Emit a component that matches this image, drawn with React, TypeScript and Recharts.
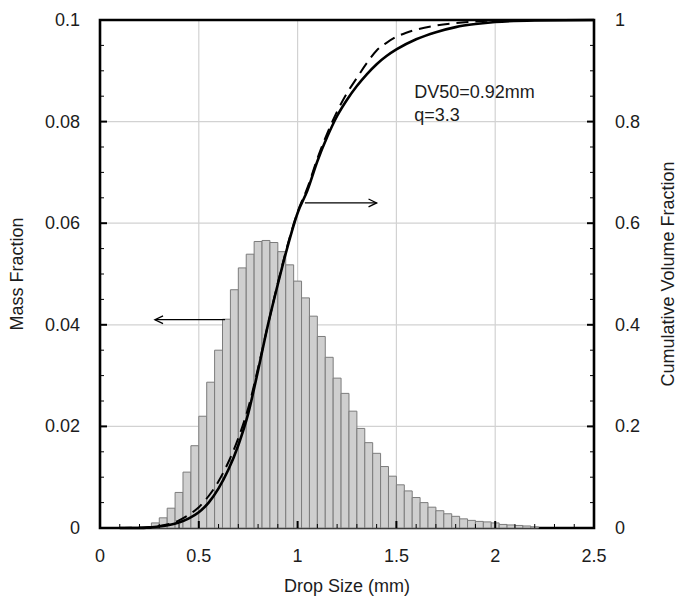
import React from 'react';
import {
  ComposedChart, Bar, Line, XAxis, YAxis, CartesianGrid,
  ReferenceArea, ReferenceLine, ReferenceDot,
} from 'recharts';

// histogram: bin centres (mm) and mass fraction per bin
const binCenters = [
  0.28, 0.32, 0.36, 0.40, 0.44, 0.48, 0.52, 0.56, 0.60, 0.64,
  0.68, 0.72, 0.76, 0.80, 0.84, 0.88, 0.92, 0.96, 1.00, 1.04,
  1.08, 1.12, 1.16, 1.20, 1.24, 1.28, 1.32, 1.36, 1.40, 1.44,
  1.48, 1.52, 1.56, 1.60, 1.64, 1.68, 1.72, 1.76, 1.80, 1.84,
  1.88, 1.92, 1.96, 2.00, 2.04, 2.08, 2.12, 2.16, 2.20,
];
const massFraction = [
  0.0010, 0.0020, 0.0039, 0.0070, 0.0110, 0.0162, 0.0220, 0.0287, 0.0350, 0.0411,
  0.0469, 0.0512, 0.0539, 0.0564, 0.0566, 0.0562, 0.0544, 0.0518, 0.0486, 0.0453,
  0.0417, 0.0377, 0.0336, 0.0295, 0.0265, 0.0230, 0.0196, 0.0168, 0.0147, 0.0121,
  0.0102, 0.0085, 0.0073, 0.0060, 0.0050, 0.0041, 0.0034, 0.0028, 0.0023, 0.0018,
  0.0015, 0.0013, 0.0012, 0.0010, 0.0007, 0.0006, 0.0005, 0.0004, 0.0002,
];

// measured cumulative volume fraction (solid)
const cdfSizes = [
  0.10, 0.20, 0.25, 0.30, 0.35, 0.40, 0.45, 0.50, 0.55, 0.60,
  0.65, 0.70, 0.75, 0.80, 0.85, 0.90, 0.95, 1.00, 1.05, 1.10,
  1.15, 1.20, 1.25, 1.30, 1.35, 1.40, 1.45, 1.50, 1.60, 1.70,
  1.80, 1.90, 2.00, 2.20, 2.50,
];
const cdfMeasured = [
  0, 0, 0.001, 0.003, 0.006, 0.011, 0.019, 0.031, 0.050, 0.078,
  0.115, 0.163, 0.225, 0.310, 0.400, 0.480, 0.555, 0.620, 0.665, 0.722,
  0.770, 0.811, 0.843, 0.870, 0.893, 0.913, 0.929, 0.942, 0.962, 0.976,
  0.986, 0.992, 0.996, 0.999, 1.000,
];

// fitted distribution (dashed)
const fitSizes = [
  0.10, 0.20, 0.25, 0.30, 0.35, 0.40, 0.45, 0.50, 0.55, 0.60,
  0.65, 0.70, 0.75, 0.80, 0.85, 0.90, 0.95, 1.00, 1.05, 1.10,
  1.15, 1.20, 1.25, 1.30, 1.35, 1.40, 1.45, 1.50, 1.55, 1.60,
  1.70, 1.80, 1.90, 2.00, 2.20, 2.50,
];
const cdfFit = [
  0, 0.001, 0.002, 0.004, 0.008, 0.015, 0.026, 0.041, 0.063, 0.092,
  0.130, 0.177, 0.236, 0.315, 0.400, 0.482, 0.558, 0.622, 0.670, 0.727,
  0.777, 0.820, 0.856, 0.886, 0.915, 0.940, 0.955, 0.967, 0.975, 0.981,
  0.989, 0.994, 0.997, 0.999, 1.000, 1.000,
];

const xTicks = [
  0, 0.1, 0.2, 0.3, 0.4, 0.5, 0.6, 0.7, 0.8, 0.9, 1, 1.1, 1.2, 1.3, 1.4,
  1.5, 1.6, 1.7, 1.8, 1.9, 2, 2.1, 2.2, 2.3, 2.4, 2.5,
];
const xLabels = [0, 0.5, 1, 1.5, 2, 2.5];
const leftTicks = [
  0, 0.005, 0.01, 0.015, 0.02, 0.025, 0.03, 0.035, 0.04, 0.045, 0.05,
  0.055, 0.06, 0.065, 0.07, 0.075, 0.08, 0.085, 0.09, 0.095, 0.1,
];
const leftLabels = [0, 0.02, 0.04, 0.06, 0.08, 0.1];
const rightTicks = [
  0, 0.05, 0.1, 0.15, 0.2, 0.25, 0.3, 0.35, 0.4, 0.45, 0.5,
  0.55, 0.6, 0.65, 0.7, 0.75, 0.8, 0.85, 0.9, 0.95, 1,
];
const rightLabels = [0, 0.2, 0.4, 0.6, 0.8, 1];

const bars = binCenters.map((x, i) => ({ x, mass: massFraction[i] }));
const measured = cdfSizes.map((x, i) => ({ x, cum: cdfMeasured[i] }));
const fitted = fitSizes.map((x, i) => ({ x, cum: cdfFit[i] }));

const FONT = '"Liberation Sans", Arial, Helvetica, sans-serif';
const FS = 18;
const TXT = '#1c1c1c';
const M = 10; // tickMargin used to recover the axis position inside custom ticks

const has = (list: number[], v: number) => list.some((l) => Math.abs(l - v) < 1e-9);
const fmt = (v: number) => String(Number(v.toFixed(3)));

const BottomTick = (p: any) => {
  const v = p.payload.value;
  const major = has(xLabels, v);
  const ay = p.y - M;
  return (
    <g>
      <line x1={p.x} x2={p.x} y1={ay} y2={ay - (major ? 7 : 4)} stroke="#000" strokeWidth={major ? 2 : 1} />
      {major && (
        <text x={p.x} y={ay + 28} textAnchor="middle" dominantBaseline="central" fontFamily={FONT} fontSize={FS} fill={TXT}>
          {fmt(v)}
        </text>
      )}
    </g>
  );
};

const LeftTick = (p: any) => {
  const v = p.payload.value;
  const major = has(leftLabels, v);
  const ax = p.x + M;
  return (
    <g>
      <line x1={ax} x2={ax + (major ? 7 : 4)} y1={p.y} y2={p.y} stroke="#000" strokeWidth={major ? 2 : 1} />
      {major && (
        <text x={ax - 20} y={p.y} textAnchor="end" dominantBaseline="central" fontFamily={FONT} fontSize={FS} fill={TXT}>
          {fmt(v)}
        </text>
      )}
    </g>
  );
};

const RightTick = (p: any) => {
  const v = p.payload.value;
  const major = has(rightLabels, v);
  const ax = p.x - M;
  return (
    <g>
      <line x1={ax} x2={ax - (major ? 7 : 4)} y1={p.y} y2={p.y} stroke="#000" strokeWidth={major ? 2 : 1} />
      {major && (
        <text x={ax + 21} y={p.y} textAnchor="start" dominantBaseline="central" fontFamily={FONT} fontSize={FS} fill={TXT}>
          {fmt(v)}
        </text>
      )}
    </g>
  );
};

const Arrow = (p: any) => {
  const { x1, y1, x2, y2 } = p;
  const ang = Math.atan2(y2 - y1, x2 - x1);
  const len = 9;
  const spread = 0.45;
  const ax = x2 - len * Math.cos(ang - spread);
  const ay = y2 - len * Math.sin(ang - spread);
  const bx = x2 - len * Math.cos(ang + spread);
  const by = y2 - len * Math.sin(ang + spread);
  return (
    <g stroke="#000" strokeWidth={1.3} fill="none">
      <line x1={x1} y1={y1} x2={x2} y2={y2} />
      <polyline points={`${ax},${ay} ${x2},${y2} ${bx},${by}`} />
    </g>
  );
};

const App: React.FC = () => {
  return (
    <div style={{ position: 'absolute', left: 0, top: 0, width: 678, height: 601, background: '#fff' }}>
      <ComposedChart width={678} height={601} data={bars} margin={{ top: 20, right: 0, bottom: 0, left: 0 }}>
        <CartesianGrid
          yAxisId="left"
          stroke="#d2d2d2"
          strokeWidth={1.2}
          horizontalValues={[0.02, 0.04, 0.06, 0.08]}
          verticalValues={[0.5, 1, 1.5, 2]}
        />
        <XAxis
          dataKey="x"
          type="number"
          domain={[0, 2.5]}
          ticks={xTicks}
          interval={0}
          height={73}
          axisLine={false}
          tickLine={false}
          tickSize={0}
          tickMargin={M}
          tick={(p: any) => <BottomTick {...p} />}
          label={{
            content: (l: any) => (
              <text x={l.viewBox.x + l.viewBox.width / 2} y={586} textAnchor="middle" dominantBaseline="central" fontFamily={FONT} fontSize={FS} fill={TXT}>
                Drop Size (mm)
              </text>
            ),
          }}
        />
        {/* separate hidden axis for the curves so their points don't shrink the bar band */}
        <XAxis xAxisId="cdf" dataKey="x" type="number" domain={[0, 2.5]} hide />
        <YAxis
          yAxisId="left"
          orientation="left"
          type="number"
          domain={[0, 0.1]}
          ticks={leftTicks}
          interval={0}
          width={100}
          axisLine={false}
          tickLine={false}
          tickSize={0}
          tickMargin={M}
          tick={(p: any) => <LeftTick {...p} />}
          label={{
            content: (l: any) => {
              const cx = l.viewBox.x + 17;
              const cy = l.viewBox.y + l.viewBox.height / 2;
              return (
                <text x={cx} y={cy} transform={`rotate(-90 ${cx} ${cy})`} textAnchor="middle" dominantBaseline="central" fontFamily={FONT} fontSize={FS} fill={TXT}>
                  Mass Fraction
                </text>
              );
            },
          }}
        />
        <YAxis
          yAxisId="right"
          orientation="right"
          type="number"
          domain={[0, 1]}
          ticks={rightTicks}
          interval={0}
          width={84}
          axisLine={false}
          tickLine={false}
          tickSize={0}
          tickMargin={M}
          tick={(p: any) => <RightTick {...p} />}
          label={{
            content: (l: any) => {
              const cx = l.viewBox.x + 74;
              const cy = l.viewBox.y + l.viewBox.height / 2;
              return (
                <text x={cx} y={cy} transform={`rotate(-90 ${cx} ${cy})`} textAnchor="middle" dominantBaseline="central" fontFamily={FONT} fontSize={FS} fill={TXT}>
                  Cumulative Volume Fraction
                </text>
              );
            },
          }}
        />
        <Bar
          yAxisId="left"
          dataKey="mass"
          barSize={7.9}
          fill="#cfcfcf"
          stroke="#7c7c7c"
          strokeWidth={1}
          isAnimationActive={false}
        />
        <Line
          xAxisId="cdf"
          yAxisId="right"
          data={fitted}
          dataKey="cum"
          type="monotone"
          stroke="#000"
          strokeWidth={2}
          strokeDasharray="12 7"
          dot={false}
          activeDot={false}
          isAnimationActive={false}
        />
        <Line
          xAxisId="cdf"
          yAxisId="right"
          data={measured}
          dataKey="cum"
          type="monotone"
          stroke="#000"
          strokeWidth={2.6}
          dot={false}
          activeDot={false}
          isAnimationActive={false}
        />
        <ReferenceLine
          yAxisId="left"
          segment={[{ x: 0.633, y: 0.041 }, { x: 0.278, y: 0.041 }]}
          shape={(p: any) => <Arrow {...p} />}
        />
        <ReferenceLine
          yAxisId="right"
          segment={[{ x: 1.037, y: 0.64 }, { x: 1.4, y: 0.64 }]}
          shape={(p: any) => <Arrow {...p} />}
        />
        <ReferenceDot
          yAxisId="left"
          x={1.585}
          y={0.0859}
          r={1}
          fill="none"
          stroke="none"
          label={{ value: 'DV50=0.92mm', position: 'right', offset: 0, fontFamily: FONT, fontSize: FS, fill: TXT }}
        />
        <ReferenceDot
          yAxisId="left"
          x={1.585}
          y={0.0813}
          r={1}
          fill="none"
          stroke="none"
          label={{ value: 'q=3.3', position: 'right', offset: 0, fontFamily: FONT, fontSize: FS, fill: TXT }}
        />
        <ReferenceArea
          yAxisId="left"
          x1={0}
          x2={2.5}
          y1={0}
          y2={0.1}
          fill="none"
          stroke="#000"
          strokeWidth={2.6}
        />
      </ComposedChart>
    </div>
  );
};

export default App;
